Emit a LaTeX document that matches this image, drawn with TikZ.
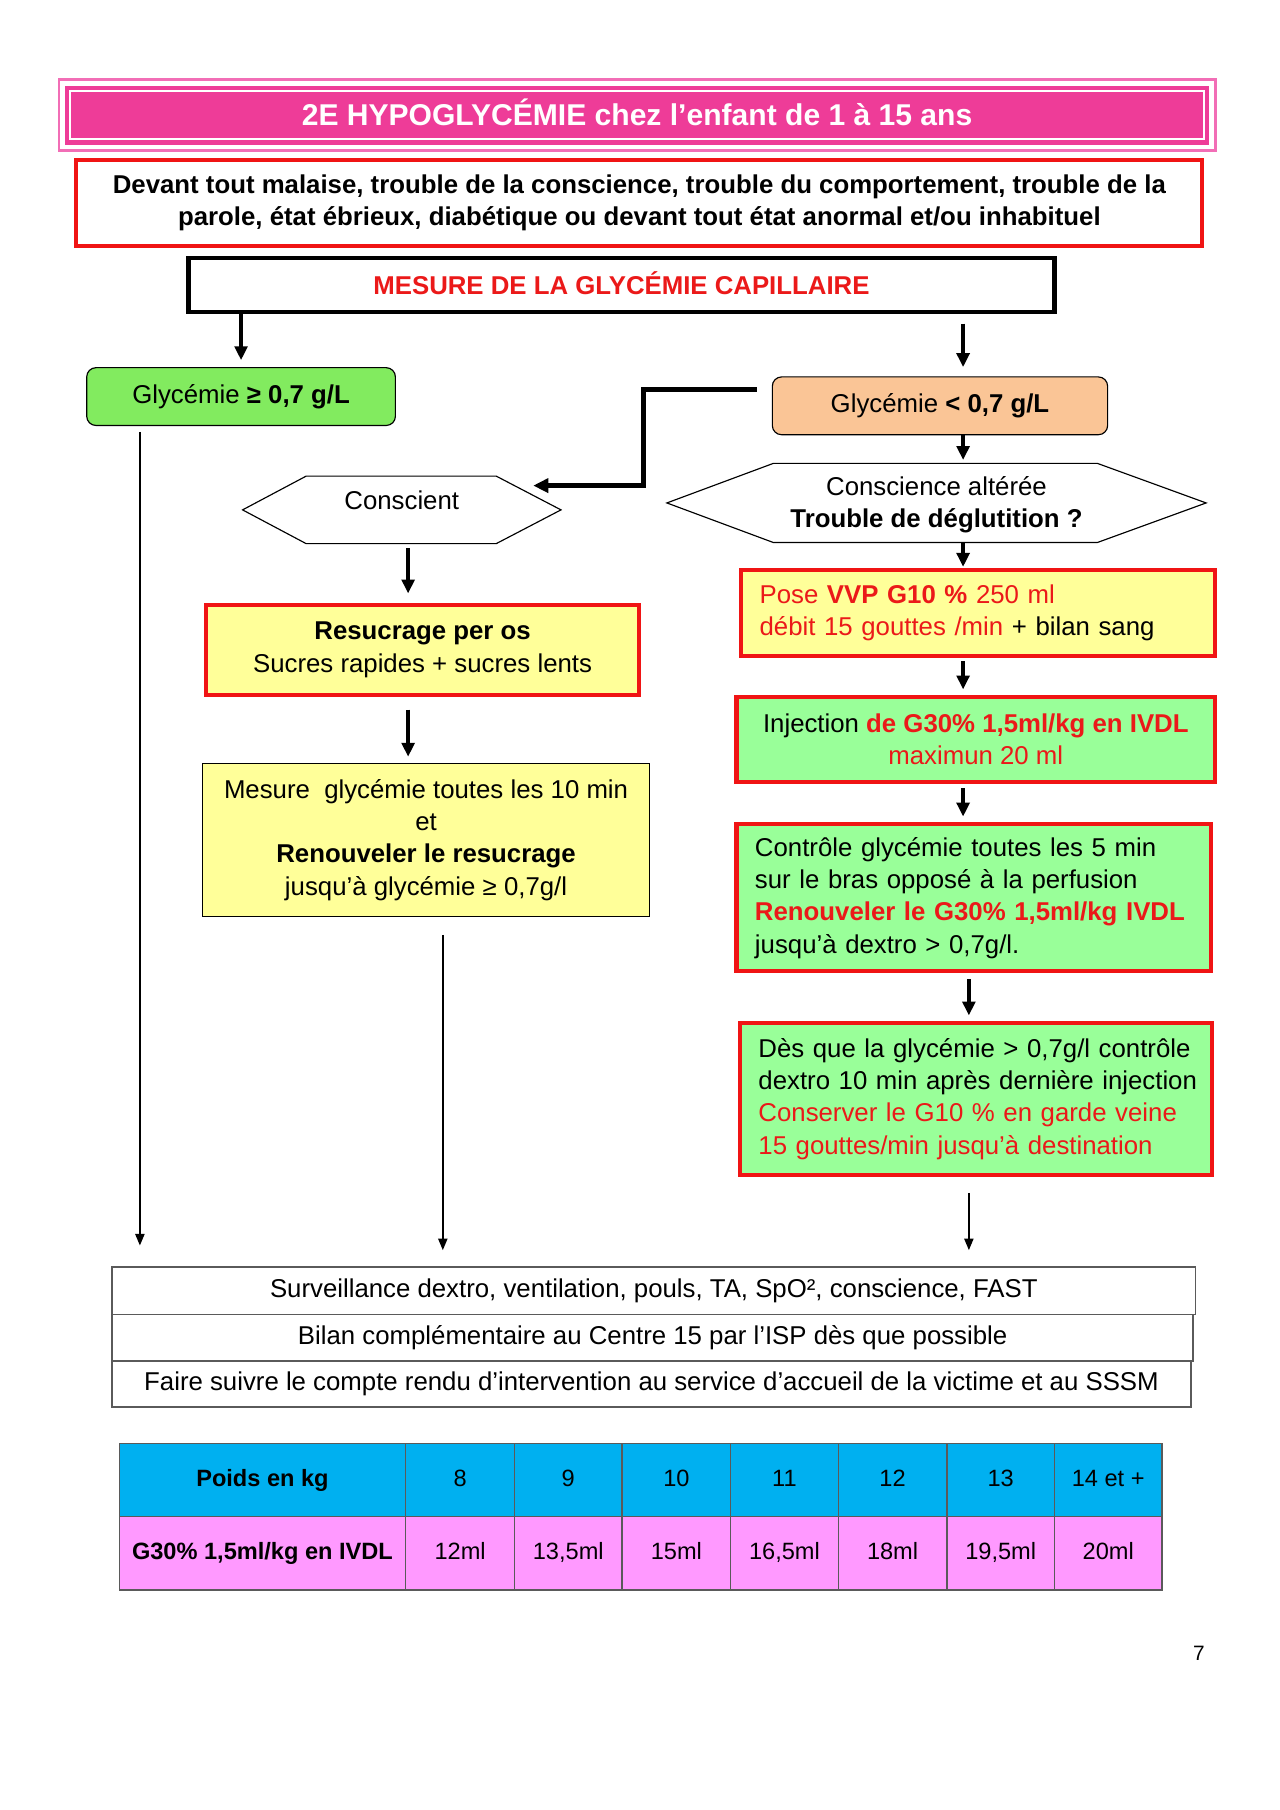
\documentclass[tikz,border=0pt]{standalone}
\usepackage{fontspec}
\setmainfont{Liberation Sans}
\usetikzlibrary{arrows.meta,calc}
\definecolor{tpink}{RGB}{238,60,152}
\definecolor{tpinkl}{RGB}{242,110,182}
\definecolor{myred}{RGB}{240,20,20}
\definecolor{txtred}{RGB}{235,25,25}
\definecolor{gA}{RGB}{130,235,95}
\definecolor{gB}{RGB}{153,255,153}
\definecolor{yel}{RGB}{255,255,153}
\definecolor{peach}{RGB}{250,197,150}
\definecolor{tblue}{RGB}{0,176,240}
\definecolor{tcell}{RGB}{255,153,255}
\definecolor{grid}{RGB}{90,90,90}
\begin{document}
\begin{tikzpicture}[x=1pt,y=-1pt,
  body/.style={font=\fontsize{22.3}{28}\selectfont, align=center, inner sep=0pt},
  redbox/.style={draw=myred, line width=3.5pt},
  thinbox/.style={draw=black, line width=1pt},
  bottombox/.style={draw=grid, line width=1.5pt, inner sep=0pt, body},
  hexline/.style={draw=black, line width=1pt},
  tharrow/.style={line width=3pt, -{Triangle[length=12pt,width=11pt]}},
  tnarrow/.style={line width=1.3pt, -{Triangle[length=10pt,width=8pt]}},
  elbowline/.style={line width=4pt, -{Triangle[length=13pt,width=12pt]}},
  cell/.style={draw=grid, line width=1pt, inner sep=0pt, minimum height=63.5pt, text height=15pt, text depth=4pt,
               font=\fontsize{20.4}{24}\selectfont}
]
\useasboundingbox (0,0) rectangle (1107,1565.5);
\fill[white] (0,0) rectangle (1107,1565.5);

% title
\node[fill=tpink, minimum width=990pt, minimum height=51pt, inner sep=0pt, text height=18.6pt, text depth=0pt,
      font=\fontsize{26}{30}\selectfont\bfseries, text=white] (title) at (551,99.5)
      {2E HYPOGLYCÉMIE chez l’enfant de 1 à 15 ans};
\draw[tpinkl, line width=2pt] ($(title.north west)+(-5,-5)$) rectangle ($(title.south east)+(5,5)$);
\draw[white, line width=1.5pt] ($(title.north west)+(5,5)$) rectangle ($(title.south east)+(-5,-5)$);

% intro
\node[redbox, body, font=\fontsize{22.3}{28}\selectfont\bfseries, minimum width=974pt, minimum height=75pt] (intro) at (553,175.5)
  {Devant tout malaise, trouble de la conscience, trouble du comportement, trouble de la\\
   parole, état ébrieux, diabétique ou devant tout état anormal et/ou inhabituel};

% mesure
\node[draw=black, line width=4pt, body, font=\fontsize{22.3}{28}\selectfont\bfseries, text=txtred,
      text height=16pt, text depth=0pt, minimum width=749pt, minimum height=47pt] (mesure) at (537.5,246.5)
  {MESURE DE LA GLYCÉMIE CAPILLAIRE};

% glycemie boxes
\node[thinbox, fill=gA, rounded corners=8pt, body, minimum width=267pt, minimum height=50pt] (green) at (208.5,343)
  {Glycémie \textbf{≥ 0,7 g/L}};
\node[thinbox, fill=peach, rounded corners=8pt, body, minimum width=290pt, minimum height=50pt] (orange) at (813,351)
  {Glycémie \textbf{< 0,7 g/L}};

% hexagons
\node[body, minimum width=275pt, minimum height=58pt, text height=16pt, text depth=16pt] (conscient) at (347.5,441) {Conscient};
\draw[hexline] (conscient.west) -- ($(conscient.north west)+(55,0)$) -- ($(conscient.north east)+(-56,0)$)
  -- (conscient.east) -- ($(conscient.south east)+(-56,0)$) -- ($(conscient.south west)+(55,0)$) -- cycle;
\node[body, minimum width=466pt, minimum height=68pt] (hexb) at (810,435)
  {\rule{0pt}{20pt}Conscience altérée\\ \textbf{Trouble de déglutition ?}};
\draw[hexline] (hexb.west) -- ($(hexb.north west)+(92,0)$) -- ($(hexb.north east)+(-94,0)$)
  -- (hexb.east) -- ($(hexb.south east)+(-94,0)$) -- ($(hexb.south west)+(92,0)$) -- cycle;

% left column
\node[redbox, fill=yel, body, minimum width=375pt, minimum height=78pt] (resuc) at (365.5,562)
  {\textbf{Resucrage per os}\\ Sucres rapides + sucres lents};
\node[thinbox, fill=yel, body, minimum width=387pt, minimum height=133pt] (mbox) at (368.5,726.5)
  {Mesure\ \ glycémie toutes les 10 min\\ et\\ \textbf{Renouveler le resucrage}\\ jusqu’à glycémie ≥ 0,7g/l};

% right column
\node[redbox, fill=yel, body, align=left, text width=378pt, minimum width=410pt, minimum height=74pt] (pose) at (846,530)
  {\mbox{\textcolor{txtred}{Pose \textbf{VVP G10 \%} 250 ml}}\\ \mbox{\textcolor{txtred}{débit 15 gouttes /min} + bilan sang}};
\node[redbox, fill=gB, body, minimum width=414pt, minimum height=73pt] (inj) at (844,639.5)
  {Injection \textcolor{txtred}{\textbf{de G30\% 1,5ml/kg en IVDL}}\\ \textcolor{txtred}{maximun 20 ml}};
\node[redbox, fill=gB, body, align=left, text width=378pt, minimum width=410pt, minimum height=127pt] (ctrl) at (842,776.5)
  {\mbox{Contrôle glycémie toutes les 5 min}\\ \mbox{sur le bras opposé à la perfusion}\\
   \mbox{\textcolor{txtred}{\textbf{Renouveler le G30\% 1,5ml/kg IVDL}}}\\ \mbox{jusqu’à dextro > 0,7g/l.}};
\node[redbox, fill=gB, body, align=left, text width=376pt, minimum width=408pt, minimum height=131pt] (des) at (844,950.5)
  {\mbox{Dès que la glycémie > 0,7g/l contrôle}\\ \mbox{dextro 10 min après dernière injection}\\
   \mbox{\textcolor{txtred}{Conserver le G10 \% en garde veine}}\\ \mbox{\textcolor{txtred}{15 gouttes/min jusqu’à destination}}};

% bottom boxes
\node[bottombox, minimum width=937pt, minimum height=41pt] (b1) at (565.5,1116.5)
  {Surveillance dextro, ventilation, pouls, TA, SpO², conscience, FAST};
\node[bottombox, minimum width=935pt, minimum height=40pt] (b2) at (564.5,1157)
  {Bilan complémentaire au Centre 15 par l’ISP dès que possible};
\node[bottombox, minimum width=933pt, minimum height=40pt] (b3) at (563.5,1197)
  {Faire suivre le compte rendu d’intervention au service d’accueil de la victime et au SSSM};

% table
\node[cell, fill=tblue, minimum width=248pt, font=\fontsize{20.4}{24}\selectfont\bfseries] (p0) at (227,1280) {Poids en kg};
\node[cell, fill=tcell, minimum width=248pt, font=\fontsize{20.4}{24}\selectfont\bfseries] (g0) at (227,1343.5) {G30\% 1,5ml/kg en IVDL};
\foreach \i/\xa/\xb/\p/\g in {1/351/445/8/12ml, 2/445/538/9/{13,5ml}, 3/538/632/10/15ml, 4/632/725/11/{16,5ml},
                              5/725/819/12/18ml, 6/819/912/13/{19,5ml}, 7/912/1005/14 et +/20ml}{
  \node[cell, fill=tblue, minimum width=\xb pt-\xa pt] (p\i) at ({(\xa+\xb)/2},1280) {\p};
  \node[cell, fill=tcell, minimum width=\xb pt-\xa pt] (g\i) at ({(\xa+\xb)/2},1343.5) {\g};
}

\node[font=\fontsize{18}{20}\selectfont, inner sep=0pt] (pnum) at (1037,1430) {7};

% connectors
\coordinate (xr) at (833,0);
\coordinate (xr2) at (838,0);
\coordinate (xl) at (353,0);
\coordinate (xm) at (383,0);
\coordinate (xg) at (121,0);
\draw[tharrow] (mesure.south -| green.north) -- ($(green.north)+(0,-6)$);
\draw[tharrow] ($(mesure.south -| xr)+(0,8)$) -- ($(orange.north -| xr)+(0,-8)$);
\draw[elbowline] ($(orange.west)+(-13,-14)$) -- ++(-98,0) |- ($(conscient.east)+(-24,-21)$);
\draw[tnarrow] ($(green.south -| xg)+(0,5)$) -- ($(b1.north -| xg)+(0,-18)$);
\draw[tharrow] (orange.south -| xr) -- ($(hexb.north -| xr)+(0,-3)$);
\draw[tharrow] ($(conscient.south -| xl)+(0,4)$) -- ($(resuc.north -| xl)+(0,-8)$);
\draw[tharrow] ($(resuc.south -| xl)+(0,11)$) -- ($(mbox.north -| xl)+(0,-5)$);
\draw[tnarrow] ($(mbox.south -| xm)+(0,15)$) -- ($(b1.north -| xm)+(0,-14)$);
\draw[tharrow] (hexb.south -| xr) -- ($(pose.north -| xr)+(0,-1)$);
\draw[tharrow] ($(pose.south -| xr)+(0,3)$) -- ($(inj.north -| xr)+(0,-5)$);
\draw[tharrow] ($(inj.south -| xr)+(0,4)$) -- ($(ctrl.north -| xr)+(0,-5)$);
\draw[tharrow] ($(ctrl.south -| xr2)+(0,5)$) -- ($(des.north -| xr2)+(0,-5)$);
\draw[tnarrow] ($(des.south -| xr2)+(0,14)$) -- ($(b1.north -| xr2)+(0,-14)$);
\end{tikzpicture}
\end{document}
